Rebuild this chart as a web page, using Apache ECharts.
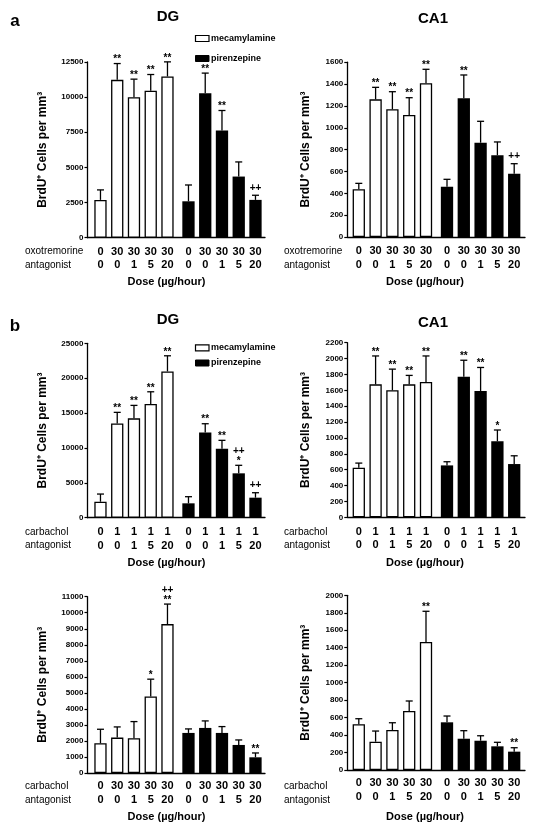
<!DOCTYPE html>
<html><head><meta charset="utf-8">
<script src="https://cdn.jsdelivr.net/npm/echarts@6/dist/echarts.min.js"></script>
<style>html,body{margin:0;padding:0;background:#fff}#c{width:535px;height:834px}</style>
</head><body><div id="c"></div><script>
// ---------- DATA ----------
const antagonistDose = ['0','0','1','5','20'];
const oxoDose = ['0','30','30','30','30'];
const carbDoseB = ['0','1','1','1','1'];
const carbDoseC = ['0','30','30','30','30'];

// Panel a, DG
const aDG_white = [2690, 11230, 10000, 10450, 11470];
const aDG_whiteSem = [710, 1160, 1280, 1160, 1040];
const aDG_whiteSig = ['', '**', '**', '**', '**'];
const aDG_black = [2590, 10280, 7620, 4350, 2690];
const aDG_blackSem = [1160, 1430, 1430, 1040, 330];
const aDG_blackSig = ['', '**', '**', '', '++'];
const aDG_ticks = [0, 12500, 2500];

// Panel a, CA1
const aCA1_white = [437, 1260, 1169, 1117, 1407];
const aCA1_whiteSem = [54, 110, 161, 158, 128];
const aCA1_whiteSig = ['', '**', '**', '**', '**'];
const aCA1_black = [460, 1270, 863, 748, 579];
const aCA1_blackSem = [68, 213, 196, 122, 92];
const aCA1_blackSig = ['', '**', '', '', '++'];
const aCA1_ticks = [0, 1600, 200];

// Panel b, DG
const bDG_white = [2290, 13520, 14240, 16290, 20970];
const bDG_whiteSem = [1100, 1580, 1860, 1760, 2240];
const bDG_whiteSig = ['', '**', '**', '**', '**'];
const bDG_black = [2060, 12230, 9890, 6360, 2870];
const bDG_blackSem = [950, 1240, 1200, 1150, 710];
const bDG_blackSig = ['', '**', '**', '++\n*', '++'];
const bDG_ticks = [0, 25000, 5000];

// Panel b, CA1
const bCA1_white = [625, 1675, 1600, 1675, 1704];
const bCA1_whiteSem = [58, 358, 267, 113, 329];
const bCA1_whiteSig = ['', '**', '**', '**', '**'];
const bCA1_black = [654, 1771, 1592, 958, 671];
const bCA1_blackSem = [46, 208, 296, 142, 104];
const bCA1_blackSig = ['', '**', '**', '*', ''];
const bCA1_ticks = [0, 2200, 200];

// Panel b (lower), DG
const cDG_white = [1854, 2208, 2167, 4771, 9290];
const cDG_whiteSem = [875, 667, 1041, 1083, 1250];
const cDG_whiteSig = ['', '', '', '*', '++\n**'];
const cDG_black = [2500, 2812, 2500, 1750, 979];
const cDG_blackSem = [250, 438, 396, 312, 271];
const cDG_blackSig = ['', '', '', '', '**'];
const cDG_ticks = [0, 11000, 1000];

// Panel b (lower), CA1
const cCA1_white = [523, 324, 458, 675, 1465];
const cCA1_whiteSem = [64, 122, 83, 115, 352];
const cCA1_whiteSig = ['', '', '', '', '**'];
const cCA1_black = [546, 358, 335, 271, 210];
const cCA1_blackSem = [72, 92, 57, 46, 45];
const cCA1_blackSig = ['', '', '', '', '**'];
const cCA1_ticks = [0, 2000, 200];

const titles = ['DG', 'CA1'];
const panelLetters = ['a', 'b'];
const legendNames = ['mecamylamine', 'pirenzepine'];
const rowNames = [['oxotremorine','antagonist'], ['carbachol','antagonist'], ['carbachol','antagonist']];
const yName = 'BrdU\u207A Cells per mm\u00B3';
const xName = 'Dose (\u00B5g/hour)';

// ---------- BUILD ----------
const FONT = 'Liberation Sans, Arial, Helvetica, sans-serif';
const panels = [
  {w:aDG_white, ws:aDG_whiteSem, wg:aDG_whiteSig, b:aDG_black, bs:aDG_blackSem, bg:aDG_blackSig, t:aDG_ticks, ag:oxoDose},
  {w:aCA1_white, ws:aCA1_whiteSem, wg:aCA1_whiteSig, b:aCA1_black, bs:aCA1_blackSem, bg:aCA1_blackSig, t:aCA1_ticks, ag:oxoDose},
  {w:bDG_white, ws:bDG_whiteSem, wg:bDG_whiteSig, b:bDG_black, bs:bDG_blackSem, bg:bDG_blackSig, t:bDG_ticks, ag:carbDoseB},
  {w:bCA1_white, ws:bCA1_whiteSem, wg:bCA1_whiteSig, b:bCA1_black, bs:bCA1_blackSem, bg:bCA1_blackSig, t:bCA1_ticks, ag:carbDoseB},
  {w:cDG_white, ws:cDG_whiteSem, wg:cDG_whiteSig, b:cDG_black, bs:cDG_blackSem, bg:cDG_blackSig, t:cDG_ticks, ag:carbDoseC},
  {w:cCA1_white, ws:cCA1_whiteSem, wg:cCA1_whiteSig, b:cCA1_black, bs:cCA1_blackSem, bg:cCA1_blackSig, t:cCA1_ticks, ag:carbDoseC}
];
// layout
const cols = [
  {axisX:87.5, endX:265, g1x:92.1, g2x:180.1, gw:83.75, yNameX:43, rowX:25, doseX:166.5, titleX:168},
  {axisX:347.3, endX:525, g1x:350.4, g2x:438.6, gw:84, yNameX:306, rowX:284, doseX:425, titleX:433}
];
const geo = [
  {top:62, bottom:237.7}, {top:62.2, bottom:237},
  {top:343.3, bottom:517.7}, {top:342.7, bottom:517.3},
  {top:596.7, bottom:773}, {top:595.3, bottom:770}
];
const rows = [
  {margin:7.3, r1:251.7, r2:265, dose:281.7},
  {margin:7.9, r1:532.3, r2:545.7, dose:563.3},
  {margin:6.6, r1:786, r2:800, dose:816.7}
];
const titleY = [[16.7, 19.3], [319.5, 323]];
const letterPos = [[15, 21.7], [15, 326.7]];
const legendY = [[38.5, 58.5], [347.8, 363]];

function makeErr(sig) {
  return function (params, api) {
    const i = api.value(0), m = api.value(1), s = api.value(2);
    const p0 = api.coord([i, m]), p1 = api.coord([i, m + s]);
    const x = p0[0];
    const ls = {stroke:'#000', lineWidth:1.3};
    const ch = [
      {type:'line', shape:{x1:x, y1:p0[1], x2:x, y2:p1[1]}, style:ls},
      {type:'line', shape:{x1:x-3.5, y1:p1[1], x2:x+3.5, y2:p1[1]}, style:ls}
    ];
    const lines = (sig[params.dataIndex] || '').split('\n').filter(Boolean).reverse();
    let y = p1[1] - 2;
    lines.forEach(function (t) {
      const star = t.indexOf('*') >= 0;
      ch.push({type:'text', style:{text:t, x:x, y: y + (star ? 3 : 0),
        align:'center', verticalAlign:'bottom', textAlign:'center', textVerticalAlign:'bottom',
        font:'bold 10px ' + FONT, fill:'#000'}});
      y -= 7;
    });
    return {type:'group', children:ch};
  };
}

const grid = [], xAxis = [], yAxis = [], series = [], graphic = [];
panels.forEach(function (p, k) {
  const c = cols[k % 2], g = geo[k], r = rows[Math.floor(k / 2)];
  const h = g.bottom - g.top;
  const base = 3 * k;
  // frame grid
  grid.push({left:c.axisX, top:g.top, width:c.endX - c.axisX, height:h});
  xAxis.push({gridIndex:base, type:'value', min:0, max:1, axisLine:{show:true, lineStyle:{color:'#000', width:1.3}},
    axisTick:{show:false}, axisLabel:{show:false}, splitLine:{show:false}});
  yAxis.push({gridIndex:base, type:'value', min:p.t[0], max:p.t[1], interval:p.t[2],
    axisLine:{show:true, lineStyle:{color:'#000', width:1.3}},
    axisTick:{show:true, length:3, lineStyle:{color:'#000', width:1.2}},
    axisLabel:{color:'#000', fontWeight:'bold', fontSize:8, fontFamily:FONT, margin:4,
      formatter:function (v) { return String(v); }},
    splitLine:{show:false}});
  // two bar grids
  [[c.g1x, p.w, p.ws, p.wg, true], [c.g2x, p.b, p.bs, p.bg, false]].forEach(function (gd, j) {
    const gi = base + 1 + j;
    grid.push({left:gd[0], top:g.top, width:c.gw, height:h});
    xAxis.push({gridIndex:gi, type:'category', data:['0','1','2','3','4'],
      axisLine:{show:false}, axisTick:{show:false}, splitLine:{show:false},
      axisLabel:{interval:0, color:'#000', fontWeight:'bold', fontSize:11, fontFamily:FONT,
        lineHeight:13.5, margin:r.margin,
        formatter:function (v, idx) { return p.ag[idx] + '\n' + antagonistDose[idx]; }}});
    yAxis.push({gridIndex:gi, type:'value', min:p.t[0], max:p.t[1], show:false});
    series.push({type:'bar', xAxisIndex:gi, yAxisIndex:gi, data:gd[1], barWidth:12.3,
      itemStyle: gd[4] ? {color:'#fff', borderColor:'#000', borderWidth:1.3} : {color:'#000'},
      silent:true, animation:false});
    series.push({type:'custom', xAxisIndex:gi, yAxisIndex:gi, z:5, clip:false, animation:false, silent:true,
      data:gd[1].map(function (v, i) { return [i, v, gd[2][i]]; }),
      encode:{x:0, y:1},
      renderItem: makeErr(gd[3])});
  });
  // y axis name
  graphic.push({type:'text', x:c.yNameX, y:(g.top + g.bottom) / 2, rotation:Math.PI / 2,
    style:{text:yName, align:'center', verticalAlign:'middle', textAlign:'center', textVerticalAlign:'middle',
      font:'bold 12px ' + FONT, fill:'#000'}});
  // row names
  const rn = rowNames[Math.floor(k / 2)];
  [r.r1, r.r2].forEach(function (yy, j) {
    graphic.push({type:'text', x:c.rowX, y:yy, style:{text:rn[j], align:'left', verticalAlign:'middle',
      textAlign:'left', textVerticalAlign:'middle', font:'10px ' + FONT, fill:'#000'}});
  });
  graphic.push({type:'text', x:c.doseX, y:r.dose, style:{text:xName, align:'center', verticalAlign:'middle',
    textAlign:'center', textVerticalAlign:'middle', font:'bold 11px ' + FONT, fill:'#000'}});
});
// titles, letters, legends
[0, 1].forEach(function (ri) {
  [0, 1].forEach(function (ci) {
    graphic.push({type:'text', x:cols[ci].titleX, y:titleY[ri][ci], style:{text:titles[ci], align:'center',
      verticalAlign:'middle', textAlign:'center', textVerticalAlign:'middle', font:'bold 15px ' + FONT, fill:'#000'}});
  });
  graphic.push({type:'text', x:letterPos[ri][0], y:letterPos[ri][1], style:{text:panelLetters[ri], align:'center',
    verticalAlign:'middle', textAlign:'center', textVerticalAlign:'middle', font:'bold 17px ' + FONT, fill:'#000'}});
  legendNames.forEach(function (nm, j) {
    const yy = legendY[ri][j];
    graphic.push({type:'rect', shape:{x:195.5, y:yy - 3, width:13.5, height:6},
      style: j === 0 ? {fill:'#fff', stroke:'#000', lineWidth:1.2} : {fill:'#000', stroke:'#000', lineWidth:1}});
    graphic.push({type:'text', x:211, y:yy, style:{text:nm, align:'left', verticalAlign:'middle',
      textAlign:'left', textVerticalAlign:'middle', font:'bold 9px ' + FONT, fill:'#000'}});
  });
});

const chart = echarts.init(document.getElementById('c'), null, {renderer:'canvas'});
chart.setOption({animation:false, backgroundColor:'#fff', grid:grid, xAxis:xAxis, yAxis:yAxis, series:series,
  graphic:{elements:graphic}});
</script></body></html>
